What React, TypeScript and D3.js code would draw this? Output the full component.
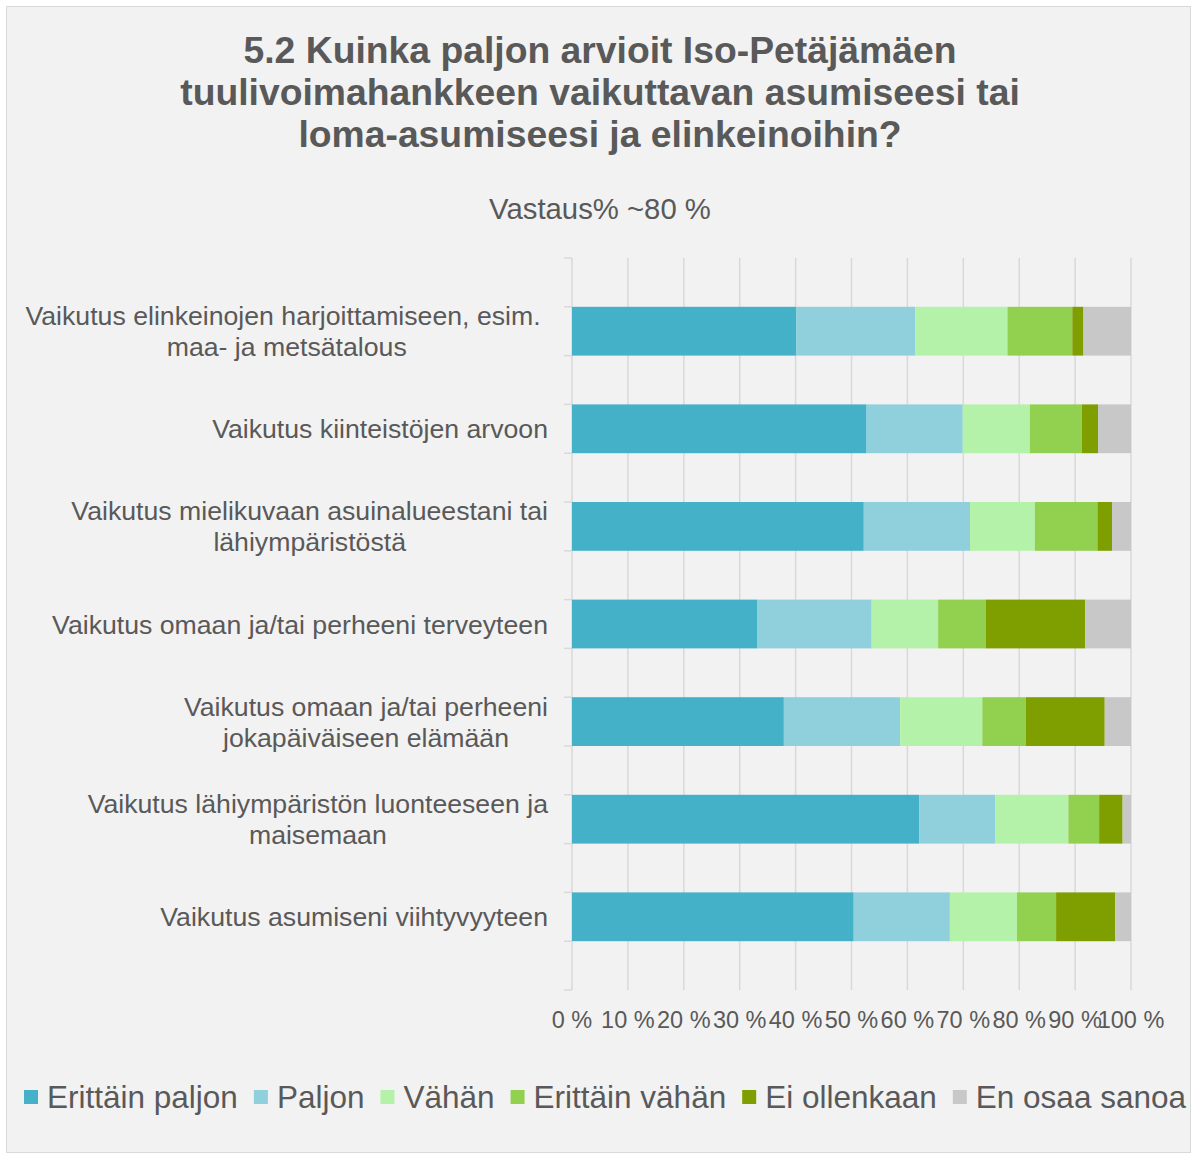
import React, { useEffect, useRef } from "react";
import * as d3 from "d3";

const titleLines = [
  "5.2 Kuinka paljon arvioit Iso-Petäjämäen",
  "tuulivoimahankkeen vaikuttavan asumiseesi tai",
  "loma-asumiseesi ja elinkeinoihin?",
];
const subtitle = "Vastaus% ~80 %";

const categories = [
  "Vaikutus elinkeinojen harjoittamiseen, esim. maa- ja metsätalous",
  "Vaikutus kiinteistöjen arvoon",
  "Vaikutus mielikuvaan asuinalueestani tai lähiympäristöstä",
  "Vaikutus omaan ja/tai perheeni terveyteen",
  "Vaikutus omaan ja/tai perheeni jokapäiväiseen elämään",
  "Vaikutus lähiympäristön luonteeseen ja maisemaan",
  "Vaikutus asumiseni viihtyvyyteen",
];
const categoryLines = [
  ["Vaikutus elinkeinojen harjoittamiseen, esim. ", "maa- ja metsätalous"],
  ["Vaikutus kiinteistöjen arvoon"],
  ["Vaikutus mielikuvaan asuinalueestani tai", "lähiympäristöstä"],
  ["Vaikutus omaan ja/tai perheeni terveyteen"],
  ["Vaikutus omaan ja/tai perheeni", "jokapäiväiseen elämään"],
  ["Vaikutus lähiympäristön luonteeseen ja", "maisemaan"],
  ["Vaikutus asumiseni viihtyvyyteen"],
];

const seriesNames = [
  "Erittäin paljon",
  "Paljon",
  "Vähän",
  "Erittäin vähän",
  "Ei ollenkaan",
  "En osaa sanoa",
];
const seriesColors = ["#45B1C8", "#8FD0DC", "#B5F2A9", "#92D050", "#7F9F00", "#C8C8C8"];

const erittainPaljon = [40.1, 52.7, 52.2, 33.1, 37.9, 62.1, 50.4];
const paljon = [21.3, 17.2, 19.0, 20.5, 20.8, 13.6, 17.2];
const vahan = [16.5, 12.0, 11.6, 11.9, 14.7, 13.1, 12.0];
const erittainVahan = [11.6, 9.3, 11.2, 8.5, 7.8, 5.5, 7.0];
const eiOllenkaan = [2.0, 2.9, 2.6, 17.8, 14.1, 4.2, 10.6];
const enOsaaSanoa = [8.5, 5.9, 3.4, 8.2, 4.7, 1.5, 2.8];

const xTicks = [0, 10, 20, 30, 40, 50, 60, 70, 80, 90, 100];
const xTickLabels = ["0 %", "10 %", "20 %", "30 %", "40 %", "50 %", "60 %", "70 %", "80 %", "90 %", "100 %"];

const W = 1196;
const H = 1155;
const FONT = "'Liberation Sans', Arial, sans-serif";
const TEXT = "#595959";

export default function App() {
  const ref = useRef<SVGSVGElement | null>(null);

  useEffect(() => {
    const svg = d3.select(ref.current);
    svg.selectAll("*").remove();

    svg
      .append("rect")
      .attr("x", 6.5)
      .attr("y", 6.5)
      .attr("width", 1184)
      .attr("height", 1146)
      .attr("fill", "#F2F2F2")
      .attr("stroke", "#D9D9D9")
      .attr("stroke-width", 1);

    // Title
    svg
      .append("g")
      .selectAll("text")
      .data(titleLines)
      .join("text")
      .attr("x", 600)
      .attr("y", (_d, i) => 63 + i * 42)
      .attr("text-anchor", "middle")
      .attr("font-family", FONT)
      .attr("font-weight", "bold")
      .attr("font-size", 37.3)
      .attr("fill", TEXT)
      .text((d) => d);

    svg
      .append("text")
      .attr("x", 600)
      .attr("y", 219)
      .attr("text-anchor", "middle")
      .attr("font-family", FONT)
      .attr("font-size", 29.3)
      .attr("fill", TEXT)
      .text(subtitle);

    const x = d3.scaleLinear().domain([0, 100]).range([572, 1131]);
    const y = d3
      .scaleBand<string>()
      .domain(categories)
      .range([258, 990])
      .paddingInner(0.5)
      .paddingOuter(0.5);

    // gridlines
    svg
      .append("g")
      .selectAll("line")
      .data(xTicks)
      .join("line")
      .attr("x1", (d) => x(d))
      .attr("x2", (d) => x(d))
      .attr("y1", 258)
      .attr("y2", 990)
      .attr("stroke", "#D9D9D9")
      .attr("stroke-width", 1.5);

    // category ticks on the axis
    const tickYs: number[] = [258, 990];
    categories.forEach((c) => {
      tickYs.push(y(c)!);
      tickYs.push(y(c)! + y.bandwidth());
    });
    svg
      .append("g")
      .selectAll("line")
      .data(tickYs)
      .join("line")
      .attr("x1", 564)
      .attr("x2", 572)
      .attr("y1", (d) => d)
      .attr("y2", (d) => d)
      .attr("stroke", "#D9D9D9")
      .attr("stroke-width", 1.5);

    // stacked data
    const allSeries = [erittainPaljon, paljon, vahan, erittainVahan, eiOllenkaan, enOsaaSanoa];
    const rows = categories.map((c, i) => {
      const r: Record<string, any> = { category: c };
      seriesNames.forEach((s, j) => (r[s] = allSeries[j][i]));
      return r;
    });
    const stack = d3.stack<any>().keys(seriesNames);
    const stacked = stack(rows);

    svg
      .append("g")
      .selectAll("g")
      .data(stacked)
      .join("g")
      .attr("fill", (_d, i) => seriesColors[i])
      .selectAll("rect")
      .data((d) => d)
      .join("rect")
      .attr("x", (d) => x(d[0]))
      .attr("width", (d) => Math.max(0, x(d[1]) - x(d[0])))
      .attr("y", (d) => y(d.data.category)!)
      .attr("height", y.bandwidth());

    // x tick labels
    svg
      .append("g")
      .selectAll("text")
      .data(xTicks)
      .join("text")
      .attr("x", (d) => x(d))
      .attr("y", 1028)
      .attr("text-anchor", "middle")
      .attr("font-family", FONT)
      .attr("font-size", 23.5)
      .attr("fill", TEXT)
      .text((_d, i) => xTickLabels[i]);

    // category labels
    const labelRight = 548;
    const lineH = 31;
    const labelSize = 26.67;
    categories.forEach((c, i) => {
      const lines = categoryLines[i];
      const cy = y(c)! + y.bandwidth() / 2;
      const g = svg.append("g");
      const texts = g
        .selectAll("text")
        .data(lines)
        .join("text")
        .attr("font-family", FONT)
        .attr("font-size", labelSize)
        .attr("fill", TEXT)
        .style("white-space", "pre")
        .attr("text-anchor", "middle")
        .attr("y", (_d, k) => cy + 9.5 + (k - (lines.length - 1) / 2) * lineH)
        .text((d) => d);
      let maxW = 0;
      texts.each(function () {
        maxW = Math.max(maxW, (this as SVGTextElement).getComputedTextLength());
      });
      texts.attr("x", labelRight - maxW / 2);
    });

    // legend
    const legendSize = 31.5;
    const sq = 14;
    const sqGap = 9;
    const itemGap = 16;
    const lg = svg.append("g");
    const items = seriesNames.map((name, i) => {
      const t = lg
        .append("text")
        .attr("font-family", FONT)
        .attr("font-size", legendSize)
        .attr("fill", TEXT)
        .attr("y", 1108)
        .text(name);
      const w = (t.node() as SVGTextElement).getComputedTextLength();
      const r = lg.append("rect").attr("width", sq).attr("height", sq).attr("y", 1090).attr("fill", seriesColors[i]);
      return { t, r, w };
    });
    const total = items.reduce((a, it) => a + sq + sqGap + it.w, 0) + itemGap * (items.length - 1);
    let cx = 605 - total / 2;
    items.forEach((it) => {
      it.r.attr("x", cx);
      it.t.attr("x", cx + sq + sqGap);
      cx += sq + sqGap + it.w + itemGap;
    });
  }, []);

  return (
    <svg
      ref={ref}
      width={W}
      height={H}
      style={{ position: "absolute", left: 0, top: 0, background: "#fff" }}
    />
  );
}
